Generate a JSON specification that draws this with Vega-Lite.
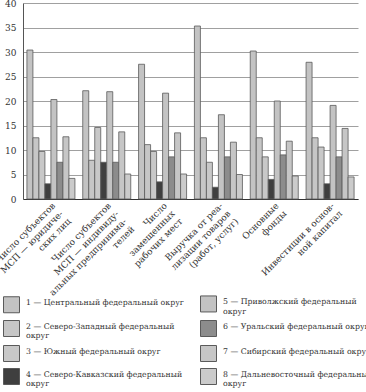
{
  "$schema": "https://vega.github.io/schema/vega-lite/v6.json",
  "autosize": "none",
  "padding": {"left": 23, "top": 3, "right": 8, "bottom": 193},
  "width": 335,
  "height": 196,
  "background": "white",
  "config": {
    "view": {"stroke": null},
    "font": "DejaVu Serif"
  },
  "data": {
    "values": [
      {"c": "Число субъектов МСП — юридических лиц", "d": "1 — Центральный федеральный округ", "v": 30.4},
      {"c": "Число субъектов МСП — юридических лиц", "d": "2 — Северо-Западный федеральный округ", "v": 12.5},
      {"c": "Число субъектов МСП — юридических лиц", "d": "3 — Южный федеральный округ", "v": 9.7},
      {"c": "Число субъектов МСП — юридических лиц", "d": "4 — Северо-Кавказский федеральный округ", "v": 3.1},
      {"c": "Число субъектов МСП — юридических лиц", "d": "5 — Приволжский федеральный округ", "v": 20.3},
      {"c": "Число субъектов МСП — юридических лиц", "d": "6 — Уральский федеральный округ", "v": 7.5},
      {"c": "Число субъектов МСП — юридических лиц", "d": "7 — Сибирский федеральный округ", "v": 12.7},
      {"c": "Число субъектов МСП — юридических лиц", "d": "8 — Дальневосточный федеральный округ", "v": 4.2},
      {"c": "Число субъектов МСП — индивидуальных предпринимателей", "d": "1 — Центральный федеральный округ", "v": 22.1},
      {"c": "Число субъектов МСП — индивидуальных предпринимателей", "d": "2 — Северо-Западный федеральный округ", "v": 7.9},
      {"c": "Число субъектов МСП — индивидуальных предпринимателей", "d": "3 — Южный федеральный округ", "v": 14.6},
      {"c": "Число субъектов МСП — индивидуальных предпринимателей", "d": "4 — Северо-Кавказский федеральный округ", "v": 7.5},
      {"c": "Число субъектов МСП — индивидуальных предпринимателей", "d": "5 — Приволжский федеральный округ", "v": 21.9},
      {"c": "Число субъектов МСП — индивидуальных предпринимателей", "d": "6 — Уральский федеральный округ", "v": 7.5},
      {"c": "Число субъектов МСП — индивидуальных предпринимателей", "d": "7 — Сибирский федеральный округ", "v": 13.7},
      {"c": "Число субъектов МСП — индивидуальных предпринимателей", "d": "8 — Дальневосточный федеральный округ", "v": 5.1},
      {"c": "Число замещенных рабочих мест", "d": "1 — Центральный федеральный округ", "v": 27.5},
      {"c": "Число замещенных рабочих мест", "d": "2 — Северо-Западный федеральный округ", "v": 11.1},
      {"c": "Число замещенных рабочих мест", "d": "3 — Южный федеральный округ", "v": 9.7},
      {"c": "Число замещенных рабочих мест", "d": "4 — Северо-Кавказский федеральный округ", "v": 3.5},
      {"c": "Число замещенных рабочих мест", "d": "5 — Приволжский федеральный округ", "v": 21.6},
      {"c": "Число замещенных рабочих мест", "d": "6 — Уральский федеральный округ", "v": 8.6},
      {"c": "Число замещенных рабочих мест", "d": "7 — Сибирский федеральный округ", "v": 13.5},
      {"c": "Число замещенных рабочих мест", "d": "8 — Дальневосточный федеральный округ", "v": 5.1},
      {"c": "Выручка от реализации товаров (работ, услуг)", "d": "1 — Центральный федеральный округ", "v": 35.3},
      {"c": "Выручка от реализации товаров (работ, услуг)", "d": "2 — Северо-Западный федеральный округ", "v": 12.5},
      {"c": "Выручка от реализации товаров (работ, услуг)", "d": "3 — Южный федеральный округ", "v": 7.5},
      {"c": "Выручка от реализации товаров (работ, услуг)", "d": "4 — Северо-Кавказский федеральный округ", "v": 2.4},
      {"c": "Выручка от реализации товаров (работ, услуг)", "d": "5 — Приволжский федеральный округ", "v": 17.2},
      {"c": "Выручка от реализации товаров (работ, услуг)", "d": "6 — Уральский федеральный округ", "v": 8.6},
      {"c": "Выручка от реализации товаров (работ, услуг)", "d": "7 — Сибирский федеральный округ", "v": 11.6},
      {"c": "Выручка от реализации товаров (работ, услуг)", "d": "8 — Дальневосточный федеральный округ", "v": 5.0},
      {"c": "Основные фонды", "d": "1 — Центральный федеральный округ", "v": 30.2},
      {"c": "Основные фонды", "d": "2 — Северо-Западный федеральный округ", "v": 12.5},
      {"c": "Основные фонды", "d": "3 — Южный федеральный округ", "v": 8.6},
      {"c": "Основные фонды", "d": "4 — Северо-Кавказский федеральный округ", "v": 4.0},
      {"c": "Основные фонды", "d": "5 — Приволжский федеральный округ", "v": 20.0},
      {"c": "Основные фонды", "d": "6 — Уральский федеральный округ", "v": 9.0},
      {"c": "Основные фонды", "d": "7 — Сибирский федеральный округ", "v": 11.8},
      {"c": "Основные фонды", "d": "8 — Дальневосточный федеральный округ", "v": 4.7},
      {"c": "Инвестиции в основной капитал", "d": "1 — Центральный федеральный округ", "v": 27.9},
      {"c": "Инвестиции в основной капитал", "d": "2 — Северо-Западный федеральный округ", "v": 12.5},
      {"c": "Инвестиции в основной капитал", "d": "3 — Южный федеральный округ", "v": 10.6},
      {"c": "Инвестиции в основной капитал", "d": "4 — Северо-Кавказский федеральный округ", "v": 3.1},
      {"c": "Инвестиции в основной капитал", "d": "5 — Приволжский федеральный округ", "v": 19.1},
      {"c": "Инвестиции в основной капитал", "d": "6 — Уральский федеральный округ", "v": 8.6},
      {"c": "Инвестиции в основной капитал", "d": "7 — Сибирский федеральный округ", "v": 14.4},
      {"c": "Инвестиции в основной капитал", "d": "8 — Дальневосточный федеральный округ", "v": 4.5}
    ]
  },
  "mark": {"type": "bar", "stroke": "#5a5a5a", "strokeWidth": 0.8},
  "encoding": {
    "x": {
      "field": "c",
      "type": "nominal",
      "sort": null,
      "scale": {"paddingInner": 0.14, "paddingOuter": 0.07},
      "axis": {
        "title": null,
        "labelAngle": -45,
        "labelAlign": "right",
        "labelBaseline": "top",
        "labelFont": "DejaVu Serif",
        "labelColor": "#333",
        "labelFontSize": 9,
        "labelLineHeight": 11,
        "labelPadding": 2,
        "labelLimit": 0,
        "domainColor": "#333",
        "domainWidth": 1,
        "ticks": false,
        "labelExpr": "indexof(datum.value,'юрид')>=0 ? ['Число субъектов','МСП — юридиче-','ских лиц'] : indexof(datum.value,'индив')>=0 ? ['Число субъектов','МСП — индивиду-','альных предпринима-','телей'] : indexof(datum.value,'замещ')>=0 ? ['Число','замещенных','рабочих мест'] : indexof(datum.value,'Выручка')>=0 ? ['Выручка от реа-','лизации товаров','(работ, услуг)'] : indexof(datum.value,'Основные')>=0 ? ['Основные','фонды'] : ['Инвестиции в основ-','ной капитал']"
      }
    },
    "xOffset": {
      "field": "d",
      "type": "nominal",
      "sort": "ascending",
      "scale": {"paddingInner": 0, "paddingOuter": 0}
    },
    "y": {
      "field": "v",
      "type": "quantitative",
      "scale": {"domain": [0, 40], "nice": false},
      "axis": {
        "title": null,
        "values": [0, 5, 10, 15, 20, 25, 30, 35, 40],
        "ticks": false,
        "labelFont": "DejaVu Serif",
        "labelColor": "#333",
        "labelPadding": 7,
        "labelFontSize": 9,
        "gridColor": "#a0a0a0",
        "gridWidth": 1,
        "domainColor": "#555"
      }
    },
    "color": {
      "field": "d",
      "type": "nominal",
      "sort": "ascending",
      "scale": {
        "range": ["#c3c3c3", "#c6c6c6", "#c8c8c8", "#3f3f3f", "#c3c3c3", "#8c8c8c", "#c6c6c6", "#cbcbcb"]
      },
      "legend": {
        "title": null,
        "orient": "none",
        "legendX": -20,
        "legendY": 292,
        "columns": 2,
        "columnPadding": 14,
        "rowPadding": 2,
        "padding": 0,
        "symbolType": "square",
        "symbolSize": 256,
        "symbolStrokeColor": "#5a5a5a",
        "symbolStrokeWidth": 1,
        "symbolOpacity": 1,
        "labelFont": "DejaVu Serif",
        "labelFontSize": 7.8,
        "labelColor": "#333",
        "labelBaseline": "alphabetic",
        "labelLineHeight": 11,
        "labelOffset": 6,
        "labelLimit": 0,
        "labelExpr": "indexof(['2','4','5','8'], substring(datum.label,0,1)) >= 0 ? [replace(datum.label,' округ',''), '\u00a0\u00a0\u00a0\u00a0\u00a0\u00a0округ'] : datum.label"
      }
    }
  }
}
